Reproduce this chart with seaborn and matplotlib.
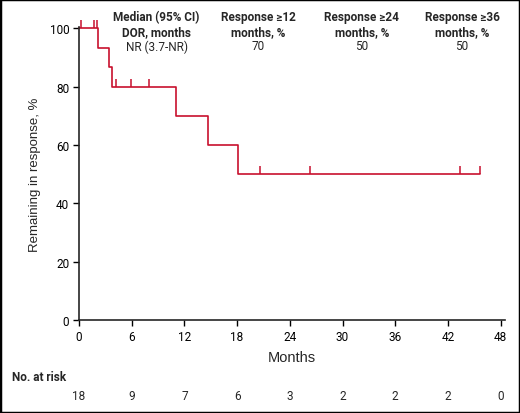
import matplotlib
matplotlib.use("Agg")
import matplotlib.pyplot as plt
import seaborn as sns
from matplotlib.patches import Rectangle
from matplotlib.transforms import blended_transform_factory

# Kaplan-Meier steps
step_months = [0, 2.17, 3.42, 3.72, 11.08, 14.68, 18.08, 45.67]
step_pct = [100, 93.3, 86.7, 80, 70, 60, 50, 50]

# censored patients
censor_months = [0.27, 1.67, 2.09, 4.25, 5.88, 7.96, 20.56, 26.33, 43.39, 45.67]
censor_pct = [100, 100, 100, 80, 80, 80, 50, 50, 50, 50]

risk_months = [0, 6, 12, 18, 24, 30, 36, 42, 48]
at_risk = [18, 9, 7, 6, 3, 2, 2, 2, 0]

headers = ["Median (95% CI)\nDOR, months", "Response \u226512\nmonths, %",
           "Response \u226524\nmonths, %", "Response \u226536\nmonths, %"]
header_values = ["NR (3.7-NR)", "70", "50", "50"]
header_x = [8.84, 20.4, 32.2, 43.6]

red = "#C8102E"

sns.set_style("ticks")
plt.rcParams["font.family"] = ["Roboto", "DejaVu Sans"]

fig = plt.figure(figsize=(5.2, 4.14), dpi=100)
ax = fig.add_axes([79 / 520, 1 - 321 / 414, 426 / 520, 293 / 414])

sns.lineplot(x=step_months, y=step_pct, drawstyle="steps-post", estimator=None,
             color=red, linewidth=1.2, ax=ax)
ax.plot(censor_months, censor_pct, linestyle="none", marker=[(0, 0), (0, 1)],
        markersize=11, markeredgewidth=1.1, color=red)
for ln in ax.lines:
    ln.set_clip_on(False)

ax.set_xlim(0, 48.5)
ax.set_ylim(0, 100.5)
ax.set_xticks(risk_months)
ax.set_yticks([0, 20, 40, 60, 80, 100])
ax.tick_params(labelsize=8.5, length=4, width=1, pad=3, colors="black")
for s in ["left", "bottom"]:
    ax.spines[s].set_linewidth(1.2)
sns.despine(ax=ax)

# axis titles
narrow = ["Liberation Sans", "DejaVu Sans"]
ax.set_xlabel("Months", fontsize=10.5, family=narrow, labelpad=5)
ax.set_ylabel("Remaining in response, %", fontsize=9.5, family=narrow, labelpad=6)

# summary table at top of the plot
for x, h, v in zip(header_x, headers, header_values):
    ax.text(x, 101.5, h, ha="center", va="center", fontsize=8.5, fontweight="bold",
            linespacing=1.2, clip_on=False)
    ax.text(x, 94, v, ha="center", va="center", fontsize=8.5)

# number at risk
fig.text(12 / 520, 1 - 378 / 414, "No. at risk", fontsize=8.5, fontweight="bold", va="center")
trans = blended_transform_factory(ax.transData, fig.transFigure)
for x, n in zip(risk_months, at_risk):
    ax.text(x, 1 - 397 / 414, str(n), transform=trans, ha="center", va="center",
            fontsize=8.5, clip_on=False)

fig.patches.append(Rectangle((0, 0), 1, 1, transform=fig.transFigure, fill=False,
                             edgecolor="black", linewidth=2.5))

fig.savefig("out.png", dpi=100)
